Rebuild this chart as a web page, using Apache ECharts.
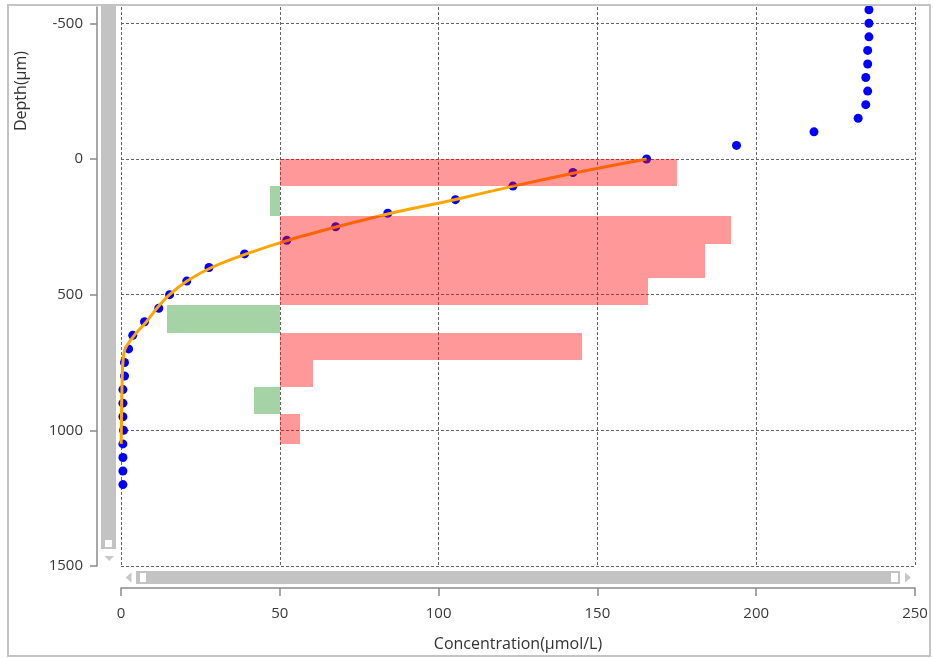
<!DOCTYPE html>
<html>
<head>
<meta charset="utf-8">
<script src="https://cdn.jsdelivr.net/npm/echarts@6/dist/echarts.min.js"></script>
<style>
  html, body { margin: 0; padding: 0; background: #ffffff; }
  #chart { width: 933px; height: 658px; }
</style>
</head>
<body>
<div id="chart"></div>
<script>
// Measured profile: depth (µm) and concentration (µmol/L)
const depths = [-550, -500, -450, -400, -350, -300, -250, -200, -150, -100, -50,
  0, 50, 100, 150, 200, 250, 300, 350, 400, 450, 500, 550, 600, 650, 700,
  750, 800, 850, 900, 950, 1000, 1050, 1100, 1150, 1200];
const concentrations = [235.5, 235.5, 235.5, 235.1, 235.1, 234.5, 235.1, 234.5, 232.1, 218.2, 193.8,
  165.5, 142.3, 123.4, 105.3, 84.0, 67.6, 52.2, 38.9, 27.7, 20.7, 15.3, 11.9, 7.4, 3.7, 2.4,
  1.1, 1.1, 0.6, 0.6, 0.6, 0.8, 0.6, 0.6, 0.6, 0.6];

// Fitted profile
const fitDepths = [0, 50, 100, 150, 200, 250, 300, 350, 400, 450, 500, 550, 600, 650,
  700, 750, 800, 850, 900, 950, 1000, 1050];
const fitConcentrations = [165.5, 143.5, 123.5, 105, 85, 68, 52.5, 39.5, 28.5, 20.8, 15.3, 11.3, 8.0, 4.2,
  1.3, 0.6, 0.4, 0.3, 0.2, 0.15, 0.1, 0.05];

// Production (+) / consumption (-) zones, drawn from a baseline on the concentration axis
const zoneTops = [0, 100, 210, 315, 440, 540, 640, 740, 840, 940];
const zoneBottoms = [100, 210, 315, 440, 540, 640, 740, 840, 940, 1050];
const zoneRates = [125, -3, 142, 134, 116, -35.5, 95, 10.6, -8, 6.5];
const rateBaseline = 50;

// Axis ticks
const xTicks = [0, 50, 100, 150, 200, 250];
const yTicks = [-500, 0, 500, 1000, 1500];

const FONT = '"Open Sans", "Noto Sans", sans-serif';
const AXIS_GREY = '#8a8a8a';
const GRID_LINE = { type: [3, 2], color: '#666666', width: 1 };

const chart = echarts.init(document.getElementById('chart'), null, { renderer: 'canvas' });

const option = {
  animation: false,
  backgroundColor: '#ffffff',
  textStyle: { fontFamily: FONT },
  grid: { left: 121, right: 18, top: 7, bottom: 92, containLabel: false },
  xAxis: {
    type: 'value',
    min: xTicks[0],
    max: xTicks[xTicks.length - 1],
    interval: 50,
    offset: 22,
    name: 'Concentration(μmol/L)',
    nameLocation: 'middle',
    nameGap: 48,
    nameTextStyle: { fontFamily: FONT, fontSize: 16, color: '#333' },
    axisLine: { show: true, onZero: false, lineStyle: { color: AXIS_GREY, width: 1.5 } },
    axisTick: { show: true, length: 8, lineStyle: { color: AXIS_GREY, width: 1.5 } },
    axisLabel: { margin: 18, fontFamily: FONT, fontSize: 15, color: '#3a3a3a',
      formatter: v => String(v) },
    splitLine: { show: true, lineStyle: GRID_LINE }
  },
  yAxis: {
    type: 'value',
    inverse: true,
    min: -560,
    max: 1500,
    offset: 24,
    axisLine: { show: true, onZero: false, lineStyle: { color: AXIS_GREY, width: 1.5 } },
    axisTick: { show: true, length: 7, customValues: yTicks, lineStyle: { color: AXIS_GREY, width: 1.5 } },
    axisLabel: { margin: 14, customValues: yTicks, fontFamily: FONT, fontSize: 15, color: '#3a3a3a',
      formatter: v => String(v) },
    splitLine: { show: true, lineStyle: GRID_LINE }
  },
  graphic: [
    // outer frame
    { type: 'rect', shape: { x: 8, y: 5, width: 922, height: 651 },
      style: { fill: 'none', stroke: '#c4c4c4', lineWidth: 2 }, z: 100, silent: true },
    // vertical scroll bar
    { type: 'rect', shape: { x: 101, y: 6, width: 15, height: 543 },
      style: { fill: '#c3c3c3' }, silent: true },
    { type: 'rect', shape: { x: 105, y: 540, width: 7, height: 7 },
      style: { fill: '#ffffff' }, silent: true },
    { type: 'polygon', shape: { points: [[104.5, 556], [114, 556], [109.25, 561]] },
      style: { fill: '#c8c8c8' }, silent: true },
    // horizontal scroll bar
    { type: 'rect', shape: { x: 136, y: 571, width: 764, height: 13 },
      style: { fill: '#c3c3c3' }, silent: true },
    { type: 'rect', shape: { x: 140, y: 573, width: 6, height: 9 },
      style: { fill: '#ffffff' }, silent: true },
    { type: 'rect', shape: { x: 891, y: 573, width: 7, height: 9 },
      style: { fill: '#ffffff' }, silent: true },
    { type: 'polygon', shape: { points: [[131.5, 572.5], [131.5, 582.5], [125.5, 577.5]] },
      style: { fill: '#c8c8c8' }, silent: true },
    { type: 'polygon', shape: { points: [[905, 572.5], [905, 582.5], [911, 577.5]] },
      style: { fill: '#c8c8c8' }, silent: true },
    // depth axis title
    { type: 'text', x: 21, y: 91, rotation: Math.PI / 2, silent: true,
      style: { text: 'Depth(μm)', fontFamily: FONT, fontSize: 16, fill: '#333',
        align: 'center', verticalAlign: 'middle' } }
  ],
  series: [
    {
      name: 'Measured',
      type: 'scatter',
      data: depths.map((d, i) => [concentrations[i], d]),
      symbol: 'circle',
      symbolSize: 9,
      itemStyle: { color: '#0000ff', opacity: 1 },
      clip: true,
      z: 2
    },
    {
      name: 'Fit',
      type: 'line',
      data: fitDepths.map((d, i) => [fitConcentrations[i], d]),
      showSymbol: false,
      smooth: 0.3,
      lineStyle: { color: '#ffa500', width: 3 },
      clip: true,
      z: 3
    },
    {
      name: 'Zones',
      type: 'custom',
      data: zoneTops.map((t, i) => [t, zoneBottoms[i], zoneRates[i]]),
      encode: { y: [0, 1] },
      clip: true,
      z: 4,
      renderItem: function (params, api) {
        const top = api.value(0);
        const bottom = api.value(1);
        const rate = api.value(2);
        const p0 = api.coord([rateBaseline, top]);
        const p1 = api.coord([rateBaseline + rate, bottom]);
        const x0 = Math.round(Math.min(p0[0], p1[0]));
        const x1 = Math.round(Math.max(p0[0], p1[0]));
        const y0 = Math.round(Math.min(p0[1], p1[1]));
        const y1 = Math.round(Math.max(p0[1], p1[1]));
        return {
          type: 'rect',
          shape: { x: x0, y: y0, width: x1 - x0, height: y1 - y0 },
          style: { fill: rate > 0 ? 'rgba(255,0,0,0.4)' : 'rgba(0,128,0,0.35)' }
        };
      }
    }
  ]
};

chart.setOption(option);
</script>
</body>
</html>
